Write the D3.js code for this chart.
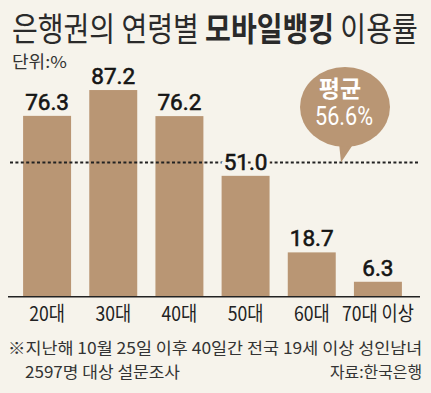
<!DOCTYPE html>
<html>
<head>
<meta charset="utf-8">
<script src="https://cdn.jsdelivr.net/npm/d3@7"></script>
<style>
  body { margin: 0; background: #f6f3eb; }
  svg { display: block; }
</style>
</head>
<body>
<svg id="chart" width="431" height="393"></svg>
<script>
let categories = ['20대', '30대', '40대', '50대', '60대', '70대 이상'];
let values = [76.3, 87.2, 76.2, 51.0, 18.7, 6.3];
let average = 56.6;
let titleParts = ['은행권의 연령별 ', '모바일뱅킹', ' 이용률'];
let unitLabel = '단위:%';
let noteLines = ['※지난해 10월 25일 이후 40일간 전국 19세 이상 성인남녀', '2597명 대상 설문조사'];
let sourceLabel = '자료:한국은행';
let avgLabel = ['평균', '56.6%'];

let bg = '#f6f3eb';
let barColor = '#b99674';
let ink = '#222';
let kr = '"Noto Sans CJK KR", "Noto Sans", sans-serif';
let num = 'Roboto, "Liberation Sans", Arial, sans-serif';

// squeeze a text horizontally to width w, around its anchor point
function fit(sel, w) {
    sel.each(function () {
        let t = d3.select(this);
        let ax = +t.attr('x');
        let k = w / this.getComputedTextLength();
        t.attr('transform', 'translate(' + ax + ',0) scale(' + k + ',1) translate(' + (-ax) + ',0)');
    });
}
function shrink(sel, k) {
    sel.each(function () {
        let ax = +d3.select(this).attr('x');
        d3.select(this).attr('transform', 'translate(' + ax + ',0) scale(' + k + ',1) translate(' + (-ax) + ',0)');
    });
}

const svg = d3.select('#chart');
svg.append('rect').attr('width', 431).attr('height', 393).attr('fill', bg);

// title
const title = svg.append('text')
    .attr('x', 12)
    .attr('y', 41)
    .attr('font-family', kr)
    .attr('font-size', 33)
    .attr('fill', '#2a2a2a');
title.selectAll('tspan')
    .data(titleParts)
    .join('tspan')
    .attr('font-weight', (d, i) => i === 1 ? 700 : 400)
    .text(d => d);
title.call(fit, 406);

svg.append('text')
    .attr('x', 12)
    .attr('y', 68)
    .attr('font-family', kr)
    .attr('font-size', 16.5)
    .attr('fill', '#333')
    .text(unitLabel)
    .call(fit, 55);

const x = d3.scaleBand()
    .domain(categories)
    .range([14, 411])
    .paddingInner(0.275)
    .paddingOuter(0.1375);

const y = d3.scaleLinear()
    .domain([0, 100])
    .range([296.7, 59.7]);

// bars
svg.append('g')
    .selectAll('rect')
    .data(values)
    .join('rect')
    .attr('x', (d, i) => x(categories[i]))
    .attr('y', d => y(d))
    .attr('width', x.bandwidth())
    .attr('height', d => y(0) - y(d))
    .attr('fill', barColor);

// average dotted line
svg.append('line')
    .attr('x1', 10)
    .attr('x2', 420)
    .attr('y1', y(average))
    .attr('y2', y(average))
    .attr('stroke', ink)
    .attr('stroke-width', 2)
    .attr('stroke-dasharray', '3,2.4');

// value labels: halo layer first so it cuts the dotted line, then the ink
['halo', 'ink'].forEach(function (layer) {
    svg.append('g')
        .selectAll('text')
        .data(values)
        .join('text')
        .attr('x', (d, i) => x(categories[i]) + x.bandwidth() / 2)
        .attr('y', d => y(d) - 6)
        .attr('text-anchor', 'middle')
        .attr('font-family', num)
        .attr('font-size', 22.5)
        .attr('fill', layer === 'halo' ? bg : '#151515')
        .attr('stroke', layer === 'halo' ? bg : '#151515')
        .attr('stroke-width', layer === 'halo' ? 7 : 0.6)
        .text(d => d.toFixed(1));
});

// baseline
svg.append('line')
    .attr('x1', 8)
    .attr('x2', 420)
    .attr('y1', y(0))
    .attr('y2', y(0))
    .attr('stroke', ink)
    .attr('stroke-width', 1.5);

// category labels
svg.append('g')
    .selectAll('text')
    .data(categories)
    .join('text')
    .attr('x', d => x(d) + x.bandwidth() / 2)
    .attr('y', 321)
    .attr('text-anchor', 'middle')
    .attr('font-family', kr)
    .attr('font-size', 20)
    .attr('fill', ink)
    .text(d => d)
    .call(shrink, 0.88);

// average bubble
let cx = 345, cy = 107, tipX = 341;
const bubble = svg.append('g');
bubble.append('path')
    .attr('d', 'M' + (cx - 6) + ',' + (cy + 36) + ' L' + tipX + ',' + y(average)
        + ' L' + (cx + 9) + ',' + (cy + 36) + ' Z')
    .attr('fill', barColor);
bubble.append('ellipse')
    .attr('cx', cx)
    .attr('cy', cy)
    .attr('rx', 45)
    .attr('ry', 40)
    .attr('fill', barColor);
bubble.append('text')
    .attr('x', cx - 5)
    .attr('y', 97)
    .attr('text-anchor', 'middle')
    .attr('font-family', kr)
    .attr('font-weight', 700)
    .attr('font-size', 23)
    .attr('fill', '#fff')
    .text(avgLabel[0]);
bubble.append('text')
    .attr('x', cx - 1)
    .attr('y', 125)
    .attr('text-anchor', 'middle')
    .attr('font-family', num)
    .attr('font-size', 26)
    .attr('fill', '#fff')
    .text(avgLabel[1])
    .call(fit, 58);

// notes
svg.append('g')
    .selectAll('text')
    .data(noteLines)
    .join('text')
    .attr('x', (d, i) => i === 0 ? 8 : 25)
    .attr('y', (d, i) => 354 + i * 24)
    .attr('font-family', kr)
    .attr('font-size', 16.3)
    .attr('fill', '#333')
    .text(d => d)
    .each(function (d, i) {
        d3.select(this).call(fit, i === 0 ? 414 : 155);
    });

svg.append('text')
    .attr('x', 422)
    .attr('y', 378)
    .attr('text-anchor', 'end')
    .attr('font-family', kr)
    .attr('font-size', 16.3)
    .attr('fill', '#333')
    .text(sourceLabel)
    .call(fit, 92);
</script>
</body>
</html>
